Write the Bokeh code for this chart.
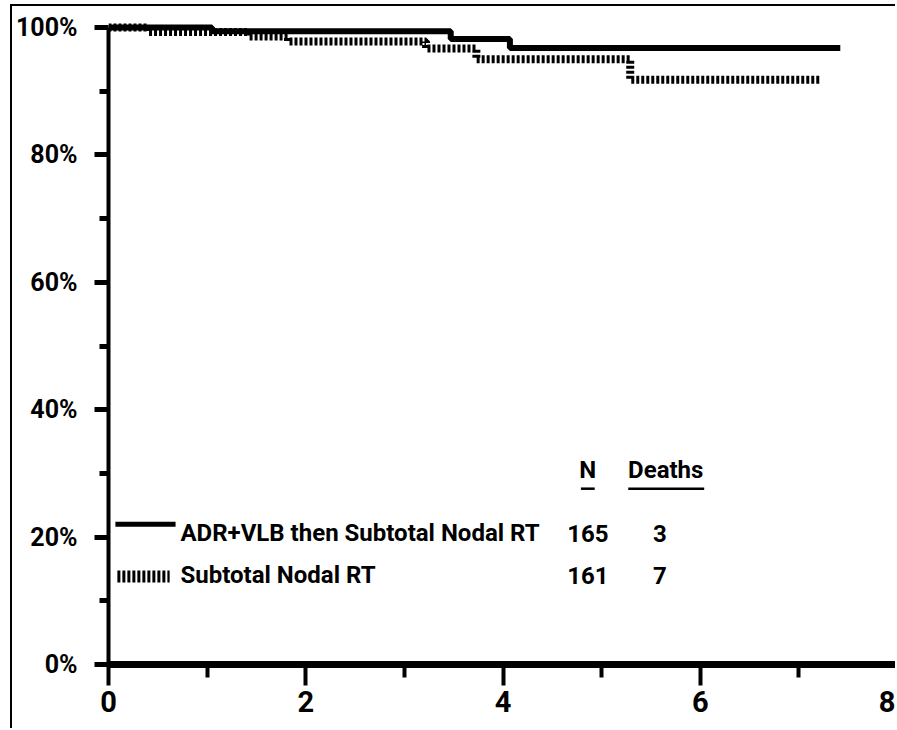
from bokeh.plotting import figure
from bokeh.models import Range1d, FixedTicker, ColumnDataSource
from bokeh.embed import file_html
from bokeh.resources import INLINE
from bokeh.core.properties import value

# ---------------- data ----------------
years_adr = [0.0, 1.05, 3.47, 4.07, 7.42]
surv_adr = [100.0, 99.4, 98.2, 96.8, 96.8]

years_rt = [0.0, 0.40, 1.42, 1.82, 3.22, 3.73, 5.29, 7.22]
surv_rt = [100.0, 99.3, 98.6, 97.8, 96.7, 95.0, 91.8, 91.8]

x_ticks = [0, 2, 4, 6, 8]
x_minor_ticks = [1, 3, 5, 7]
y_ticks = [0, 20, 40, 60, 80, 100]
y_tick_labels = ["0%", "20%", "40%", "60%", "80%", "100%"]
y_minor_ticks = [10, 30, 50, 70, 90]

group_names = ["ADR+VLB then Subtotal Nodal RT", "Subtotal Nodal RT"]
group_n = ["165", "161"]
group_deaths = ["3", "7"]
header_labels = ["N", "Deaths"]

FONT = "Roboto"

# ---------------- figure ----------------
p = figure(width=885, height=724,
           x_range=Range1d(0, 8), y_range=Range1d(0, 103.3),
           output_backend="svg", toolbar_location=None,
           min_border_left=94, min_border_right=0,
           min_border_top=0, min_border_bottom=66,
           background_fill_color="white", border_fill_color="white")
p.styles = {"border-left": "2px solid black", "border-top": "2px solid black",
            "margin-left": "10px", "margin-top": "4px"}
p.outline_line_color = None
p.grid.visible = False

# x axis
xa = p.xaxis[0]
xa.ticker = FixedTicker(ticks=x_ticks, minor_ticks=x_minor_ticks)
xa.axis_line_width = 7
xa.axis_line_color = "black"
xa.major_tick_out = 21
xa.major_tick_in = 0
xa.minor_tick_out = 13
xa.minor_tick_in = 0
xa.major_tick_line_width = 4
xa.minor_tick_line_width = 4
xa.major_label_standoff = 5
xa.major_label_text_font = FONT
xa.major_label_text_font_style = "bold"
xa.major_label_text_font_size = "29px"
xa.major_label_text_color = "black"

# y axis
ya = p.yaxis[0]
ya.ticker = FixedTicker(ticks=y_ticks, minor_ticks=y_minor_ticks)
ya.major_label_overrides = {t: l for t, l in zip(y_ticks, y_tick_labels)}
ya.bounds = (0, 100)
ya.axis_line_width = 4
ya.axis_line_color = "black"
ya.major_tick_out = 14
ya.major_tick_in = 0
ya.minor_tick_out = 9
ya.minor_tick_in = 0
ya.major_tick_line_width = 5
ya.minor_tick_line_width = 5
ya.major_label_standoff = 17
ya.major_label_text_font = FONT
ya.major_label_text_font_style = "bold"
ya.major_label_text_font_size = "25px"
ya.major_label_text_color = "black"

# ---------------- curves ----------------
p.step(x=years_adr, y=surv_adr, mode="after", line_color="black", line_width=6)
p.step(x=years_rt, y=surv_rt, mode="after", line_color="black", line_width=8,
       line_dash="3 2")

# ---------------- legend table ----------------
p.line(x=[0.07, 0.68], y=[22.0, 22.0], line_color="black", line_width=5)
p.line(x=[0.09, 0.62], y=[13.8, 13.8], line_color="black", line_width=12,
       line_dash="3 2")

row_y = [20.6, 14.0]
txt = dict(text_baseline="middle", text_font=value(FONT), text_font_style="bold",
           text_font_size="24px", text_color="black")

name_src = ColumnDataSource(dict(x=[0.73, 0.73], y=row_y, text=group_names))
p.text(x="x", y="y", text="text", source=name_src, text_align="left", **txt)

n_src = ColumnDataSource(dict(x=[4.86, 4.86], y=row_y, text=group_n))
p.text(x="x", y="y", text="text", source=n_src, text_align="center", **txt)

d_src = ColumnDataSource(dict(x=[5.59, 5.59], y=row_y, text=group_deaths))
p.text(x="x", y="y", text="text", source=d_src, text_align="center", **txt)

h_src = ColumnDataSource(dict(x=[4.86, 5.65], y=[30.6, 30.6], text=header_labels))
p.text(x="x", y="y", text="text", source=h_src, text_align="center", **txt)

p.segment(x0=[4.79, 5.27], y0=[27.6, 27.6], x1=[4.93, 6.04], y1=[27.6, 27.6],
          line_color="black", line_width=2.5)

open("out.html", "w").write(file_html(p, INLINE))
